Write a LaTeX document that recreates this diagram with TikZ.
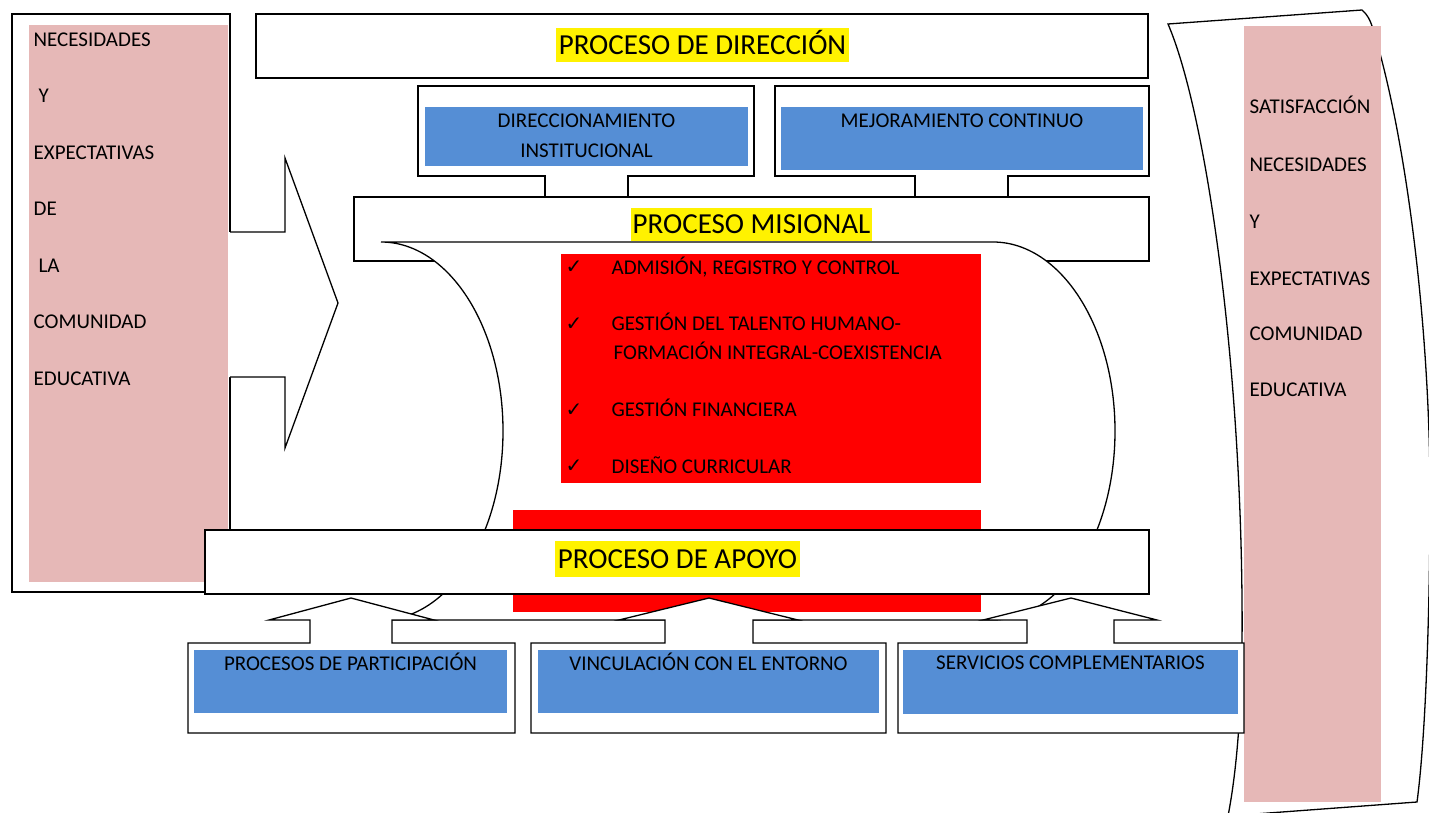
\documentclass[tikz,border=0pt]{standalone}
\usepackage{fontspec}
\setmainfont{Carlito}
\newfontfamily\symfnt{DejaVu Sans}
\definecolor{pinkc}{RGB}{230,184,183}
\definecolor{bluec}{RGB}{85,142,213}
\begin{document}
\begin{tikzpicture}[x=1pt,y=-1pt,line width=1.3pt,line join=miter,
  shp/.style={draw=black,fill=white},
  sm/.style={font=\fontsize{21}{25}\selectfont,inner sep=0pt,text height=13.5pt,text depth=0pt},
  lft/.style={sm,anchor=west},
  ttl/.style={font=\fontsize{29}{33}\selectfont,fill=yellow,inner sep=0pt,text height=18.7pt,text depth=0pt},
  chk/.style={font=\symfnt\fontsize{20}{24}\selectfont,inner sep=0pt}]
\useasboundingbox (0,0) rectangle (1429,813);
% right brace-like shape
\draw[shp] (1168,24) -- (1362,10) .. controls (1367,14) and (1370,20) .. (1372,26)
  .. controls (1405,130) and (1432,330) .. (1430,520)
  .. controls (1429,650) and (1424,750) .. (1417,802)
  -- (1228,816) .. controls (1237,770) and (1243,700) .. (1242,600)
  .. controls (1240,350) and (1205,110) .. (1168,24) -- cycle;
\fill[pinkc] (1244,26) rectangle (1381,802);
\node[lft] (r1) at (1249,107) {SATISFACCIÓN};
\node[lft] (r2) at (1249,165) {NECESIDADES};
\node[lft] (r3) at (1249,222) {Y};
\node[lft] (r4) at (1249,279) {EXPECTATIVAS};
\node[lft] (r5) at (1249,334) {COMUNIDAD};
\node[lft] (r6) at (1249,390) {EDUCATIVA};
% left box
\draw[shp] (12,14) rectangle (230,592);
\fill[pinkc] (29,25) rectangle (228,582);
\node[lft] (l1) at (33,40) {NECESIDADES};
\node[lft] (l2) at (38,96) {Y};
\node[lft] (l3) at (33,153) {EXPECTATIVAS};
\node[lft] (l4) at (33,209) {DE};
\node[lft] (l5) at (38,266) {LA};
\node[lft] (l6) at (33,322) {COMUNIDAD};
\node[lft] (l7) at (33,379) {EDUCATIVA};
% left arrow
\fill[white] (228.6,232) -- (285,232) -- (285,158) -- (338,303) -- (285,448) -- (285,377) -- (228.6,377) -- cycle;
\draw (230,232) -- (285,232) -- (285,158) -- (338,303) -- (285,448) -- (285,377) -- (230,377);
% direccion
\draw[shp] (256,14) rectangle (1148,78);
\node[ttl,minimum width=293pt,minimum height=34pt] (tdir) at (702.5,45) {PROCESO DE DIRECCIÓN};
% top callouts
\draw[shp] (545,197) -- (545,176) -- (418,176) -- (418,86) -- (754,86) -- (754,176) -- (628,176) -- (628,197);
\fill[bluec] (425,107) rectangle (748,166);
\node[sm] (d1) at (586.5,121) {DIRECCIONAMIENTO};
\node[sm] (d2) at (586.5,151) {INSTITUCIONAL};
\draw[shp] (915,197) -- (915,176) -- (775,176) -- (775,86) -- (1149,86) -- (1149,176) -- (1008,176) -- (1008,197);
\fill[bluec] (781,107) rectangle (1143,170);
\node[sm] (m1) at (962,121) {MEJORAMIENTO CONTINUO};
% misional
\draw[shp] (354,197) rectangle (1149,261);
% scroll
\draw[shp] (381,242) -- (993,242) arc[start angle=-90,end angle=90,x radius=122,y radius=189]
  -- (381,620) arc[start angle=90,end angle=-90,x radius=122,y radius=189] -- cycle;
\node[ttl,minimum width=241pt,minimum height=33pt] (tmis) at (751.5,224.5) {PROCESO MISIONAL};
% red boxes
\fill[red] (561,254) rectangle (981,483);
\fill[red] (513,510) rectangle (981,612);
\node[chk] (c1) at (574,267) {✓};
\node[chk] (c2) at (574,324) {✓};
\node[chk] (c3) at (574,410) {✓};
\node[chk] (c4) at (574,466) {✓};
\node[lft] (a1) at (611,268) {ADMISIÓN, REGISTRO Y CONTROL};
\node[lft] (a2) at (611,324) {GESTIÓN DEL TALENTO HUMANO-};
\node[lft] (a3) at (613,353) {FORMACIÓN INTEGRAL-COEXISTENCIA};
\node[lft] (a4) at (611,410) {GESTIÓN FINANCIERA};
\node[lft] (a5) at (611,467) {DISEÑO CURRICULAR};
% apoyo
\draw[shp] (205,530) rectangle (1149,594);
\node[ttl,minimum width=245pt,minimum height=36pt] (tapo) at (677.5,559) {PROCESO DE APOYO};
% bottom callouts
\draw[shp] (188,643) -- (310,643) -- (310,620) -- (269,620) -- (351,598) -- (434,620) -- (392,620) -- (392,643) -- (515,643) -- (515,733) -- (188,733) -- cycle;
\draw[shp] (531,643) -- (665,643) -- (665,620) -- (619,620) -- (709,598) -- (798,620) -- (753,620) -- (753,643) -- (886,643) -- (886,733) -- (531,733) -- cycle;
\draw[shp] (898,643) -- (1027,643) -- (1027,620) -- (983,620) -- (1071,598) -- (1157,620) -- (1114,620) -- (1114,643) -- (1244,643) -- (1244,733) -- (898,733) -- cycle;
\fill[bluec] (194,650) rectangle (507,713);
\fill[bluec] (538,650) rectangle (879,713);
\fill[bluec] (903,650) rectangle (1238,714);
\node[sm] (b1) at (350.5,664) {PROCESOS DE PARTICIPACIÓN};
\node[sm] (b2) at (708.5,664) {VINCULACIÓN CON EL ENTORNO};
\node[sm] (b3) at (1070.5,663) {SERVICIOS COMPLEMENTARIOS};
\end{tikzpicture}
\end{document}
